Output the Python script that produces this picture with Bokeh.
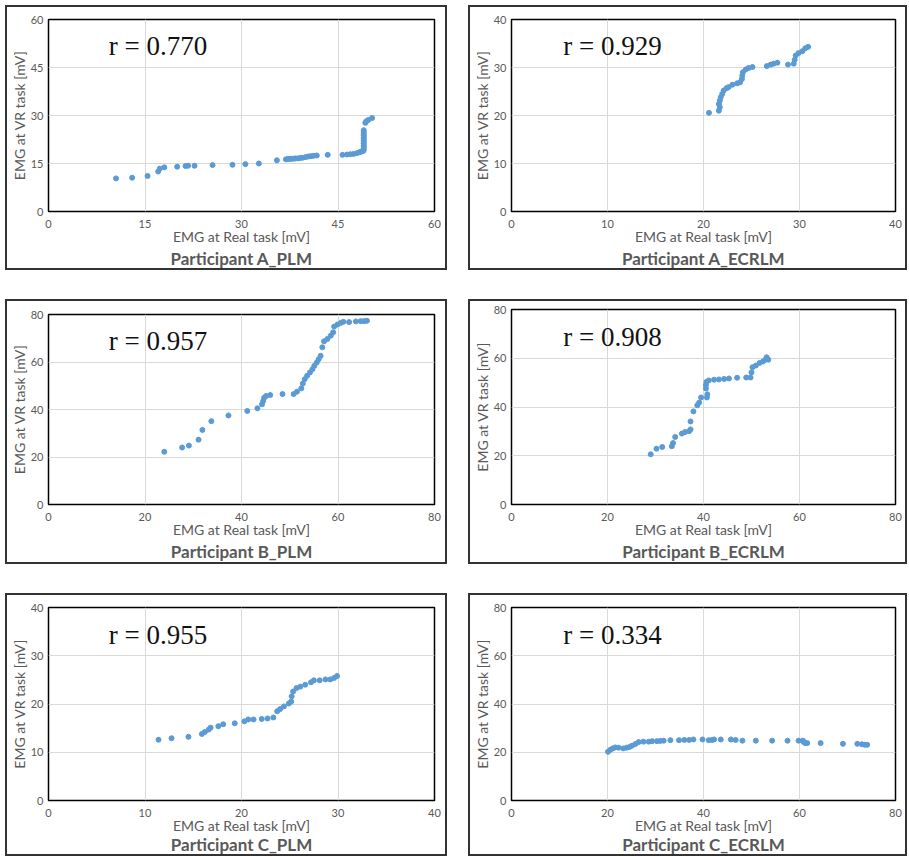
from bokeh.plotting import figure
from bokeh.layouts import column, row
from bokeh.models import Label, FixedTicker, Spacer
from bokeh.embed import file_html
from bokeh.resources import INLINE

# ---------------- data ----------------
a_plm_x = [10.5, 13.0, 15.4, 17.05, 17.3, 18.0, 20.0, 21.3, 21.7, 22.7, 25.5, 28.6, 30.6, 32.7, 35.5,
           36.9, 37.2, 37.5, 37.8, 38.1, 38.4, 38.8, 39.1, 39.5, 40.0, 40.4, 40.8, 41.2, 41.7, 43.4, 45.7,
           46.4, 46.9, 47.4, 47.9, 48.3, 48.6, 48.9, 49.0, 49.0, 49.0, 49.0, 49.0, 49.0, 49.0, 49.0, 49.0,
           49.0, 49.0, 49.0, 49.0, 49.25, 49.4, 49.7, 50.3]
a_plm_y = [10.35, 10.56, 11.1, 12.5, 13.4, 13.8, 14.0, 14.2, 14.3, 14.3, 14.5, 14.6, 14.8, 15.0, 16.0,
           16.3, 16.4, 16.4, 16.5, 16.5, 16.6, 16.6, 16.7, 16.8, 17.0, 17.2, 17.3, 17.4, 17.5, 17.7, 17.7,
           17.8, 17.9, 18.0, 18.2, 18.5, 18.7, 18.9, 19.2, 19.7, 20.2, 20.7, 21.2, 21.7, 22.2, 22.7, 23.2,
           23.7, 24.2, 24.8, 25.4, 27.7, 28.2, 28.6, 29.2]

a_ecrlm_x = [20.57, 21.6, 21.7, 21.6, 21.7, 21.8, 21.95, 22.1, 22.4, 22.6, 23.0, 23.5, 23.8, 24.0, 24.04,
             24.1, 24.4, 24.7, 25.1, 26.6, 27.0, 27.3, 27.7, 28.8, 29.4, 29.5, 29.6, 29.9, 30.3, 30.6, 30.9]
a_ecrlm_y = [20.55, 21.0, 21.7, 22.4, 23.1, 23.8, 24.5, 25.2, 25.7, 25.9, 26.4, 26.7, 26.9, 27.6, 28.3,
             29.0, 29.6, 29.9, 30.1, 30.3, 30.6, 30.8, 31.0, 30.6, 30.8, 31.6, 32.5, 33.0, 33.4, 34.0, 34.3]

b_plm_x = [24.0, 27.7, 29.1, 31.1, 31.9, 33.75, 37.3, 41.2, 43.3, 44.25, 44.5, 44.7, 45.1, 45.95, 48.5,
           50.8, 51.5, 52.4, 52.7, 53.1, 53.6, 54.2, 54.7, 55.1, 55.6, 56.0, 56.4, 56.75, 57.1, 57.8, 58.5,
           59.0, 59.2, 59.9, 60.6, 61.1, 62.3, 63.7, 64.7, 65.4, 66.0]
b_plm_y = [22.2, 24.0, 24.8, 27.3, 31.4, 35.1, 37.5, 39.4, 40.5, 42.2, 43.6, 44.95, 45.7, 46.1, 46.5,
           46.5, 47.5, 48.9, 50.9, 52.75, 54.2, 55.6, 57.0, 58.4, 59.8, 61.2, 62.6, 66.2, 68.7, 69.7, 71.1,
           72.5, 74.9, 75.8, 76.5, 76.9, 76.8, 77.1, 77.2, 77.2, 77.35]

b_ecrlm_x = [29.0, 30.2, 31.4, 33.4, 33.65, 34.1, 35.5, 36.15, 37.0, 37.3, 37.3, 37.9, 38.7, 39.1, 39.5,
             40.7, 40.8, 40.5, 40.5, 40.6, 41.1, 42.2, 43.2, 44.3, 45.3, 47.0, 48.9, 49.8, 50.0, 50.2, 50.9,
             51.7, 52.4, 52.9, 53.15, 53.5]
b_ecrlm_y = [20.6, 22.9, 23.6, 23.9, 25.2, 27.7, 29.1, 29.7, 30.1, 30.8, 34.1, 38.2, 40.7, 41.8, 43.9,
             43.9, 45.2, 47.6, 49.0, 50.3, 50.9, 51.2, 51.3, 51.5, 51.7, 52.0, 52.1, 52.1, 54.2, 56.3, 57.0,
             58.1, 58.7, 59.4, 60.4, 59.4]

c_plm_x = [11.4, 12.75, 14.5, 15.9, 16.2, 16.6, 16.8, 17.6, 18.1, 19.3, 20.3, 20.7, 21.25, 22.1, 22.7,
           23.3, 23.7, 24.0, 24.4, 24.9, 25.15, 25.2, 25.35, 25.7, 26.1, 26.6, 27.2, 27.5, 28.1, 28.7, 29.2,
           29.6, 29.9]
c_plm_y = [12.6, 12.9, 13.2, 13.8, 14.2, 14.7, 15.1, 15.4, 15.8, 16.0, 16.4, 16.8, 16.8, 16.9, 17.0,
           17.2, 18.5, 18.95, 19.5, 20.1, 20.5, 21.6, 22.6, 23.3, 23.6, 24.0, 24.5, 24.9, 24.9, 25.1, 25.1,
           25.4, 25.8]

c_ecrlm_x = [20.1, 20.6, 21.1, 21.6, 22.3, 23.3, 24.0, 24.6, 25.1, 25.8, 26.5, 27.5, 28.6, 29.3, 30.3,
             31.0, 31.7, 33.1, 34.9, 36.0, 37.0, 37.9, 39.8, 41.1, 41.8, 42.2, 43.6, 45.7, 46.7, 48.1, 50.9,
             54.3, 57.5, 59.8, 60.7, 60.9, 61.2, 61.6, 64.4, 69.05, 72.05, 73.0, 73.6, 74.1]
c_ecrlm_y = [20.2, 21.05, 21.6, 22.0, 21.9, 21.6, 21.9, 22.2, 22.7, 23.4, 24.2, 24.4, 24.4, 24.6, 24.6,
             24.7, 24.8, 25.0, 25.0, 25.1, 25.1, 25.3, 25.3, 25.0, 25.1, 25.3, 25.3, 25.3, 25.1, 24.8, 24.8,
             24.8, 24.8, 24.8, 24.8, 24.2, 23.8, 23.8, 23.8, 23.5, 23.5, 23.3, 23.1, 23.1]

ticks_a_plm = [0, 15, 30, 45, 60]
ticks_a_ecrlm = [0, 10, 20, 30, 40]
ticks_b = [0, 20, 40, 60, 80]
ticks_c_plm = [0, 10, 20, 30, 40]
ticks_c_ecrlm = [0, 20, 40, 60, 80]

r_values = ["r = 0.770", "r = 0.929", "r = 0.957", "r = 0.908", "r = 0.955", "r = 0.334"]
titles = ["Participant A_PLM", "Participant A_ECRLM", "Participant B_PLM",
          "Participant B_ECRLM", "Participant C_PLM", "Participant C_ECRLM"]

GRAY = "#595959"
BLUE = "#5B9BD5"
FONT = "Lato"


def panel(xs, ys, ticks, r_text, title, width, height, rfrac, top, right, bottom, tstand=-3):
    lo, hi = ticks[0], ticks[-1]
    p = figure(width=width, height=height, x_range=(lo, hi), y_range=(lo, hi),
               output_backend="svg", toolbar_location=None,
               title=title, title_location="below",
               min_border_left=36, min_border_right=right, min_border_top=top,
               min_border_bottom=bottom)
    p.styles = {"border": "2px solid #333333"}
    p.background_fill_color = "white"
    p.border_fill_color = "white"
    p.outline_line_color = "black"
    p.outline_line_width = 1.5
    p.title.align = "center"
    p.title.text_font = FONT
    p.title.text_font_size = "17px"
    p.title.text_font_style = "bold"
    p.title.text_color = GRAY
    p.title.standoff = tstand
    for ax in (p.xaxis[0], p.yaxis[0]):
        ax.ticker = FixedTicker(ticks=ticks)
        ax.axis_line_color = None
        ax.major_tick_line_color = None
        ax.minor_tick_line_color = None
        ax.major_tick_out = 0
        ax.major_tick_in = 0
        ax.major_label_text_font = FONT
        ax.major_label_text_font_size = "11px"
        ax.major_label_text_color = GRAY
        ax.axis_label_text_font = FONT
        ax.axis_label_text_font_size = "14px"
        ax.axis_label_text_font_style = "normal"
        ax.axis_label_text_color = GRAY
    p.xaxis.axis_label = "EMG at Real task [mV]"
    p.yaxis.axis_label = "EMG at VR task [mV]"
    p.xaxis.major_label_standoff = 8
    p.yaxis.major_label_standoff = 5
    p.xaxis.axis_label_standoff = -3
    p.yaxis.axis_label_standoff = 0
    p.grid.grid_line_color = "#d9d9d9"
    p.grid.grid_line_width = 1
    p.scatter(xs, ys, size=5, color=BLUE, line_color=BLUE)
    p.add_layout(Label(x=lo + (hi - lo) * rfrac, y=lo + (hi - lo) * 0.86, text=r_text,
                       text_font="Liberation Serif", text_font_size="27px",
                       text_color="#111111", text_baseline="middle"))
    return p


W_L, W_R = 442, 439
H1, H2, H3 = 265, 265, 263
p1 = panel(a_plm_x, a_plm_y, ticks_a_plm, r_values[0], titles[0], W_L, H1, 0.156, 12, 15, 61)
p2 = panel(a_ecrlm_x, a_ecrlm_y, ticks_a_ecrlm, r_values[1], titles[1], W_R, H1, 0.135, 12, 14, 61)
p3 = panel(b_plm_x, b_plm_y, ticks_b, r_values[2], titles[2], W_L, H2, 0.156, 13, 15, 62)
p4 = panel(b_ecrlm_x, b_ecrlm_y, ticks_b, r_values[3], titles[3], W_R, H2, 0.135, 8, 14, 62)
p5 = panel(c_plm_x, c_plm_y, ticks_c_plm, r_values[4], titles[4], W_L, H3, 0.156, 12, 15, 58, -9)
p6 = panel(c_ecrlm_x, c_ecrlm_y, ticks_c_ecrlm, r_values[5], titles[5], W_R, H3, 0.135, 12, 14, 58, -9)


def band(a, b):
    return row(Spacer(width=5), column(a), Spacer(width=21), column(b), spacing=0)


layout = column(Spacer(height=5), band(p1, p2), Spacer(height=29), band(p3, p4),
                Spacer(height=29), band(p5, p6), spacing=0)

with open("out.html", "w") as f:
    f.write(file_html(layout, INLINE))
